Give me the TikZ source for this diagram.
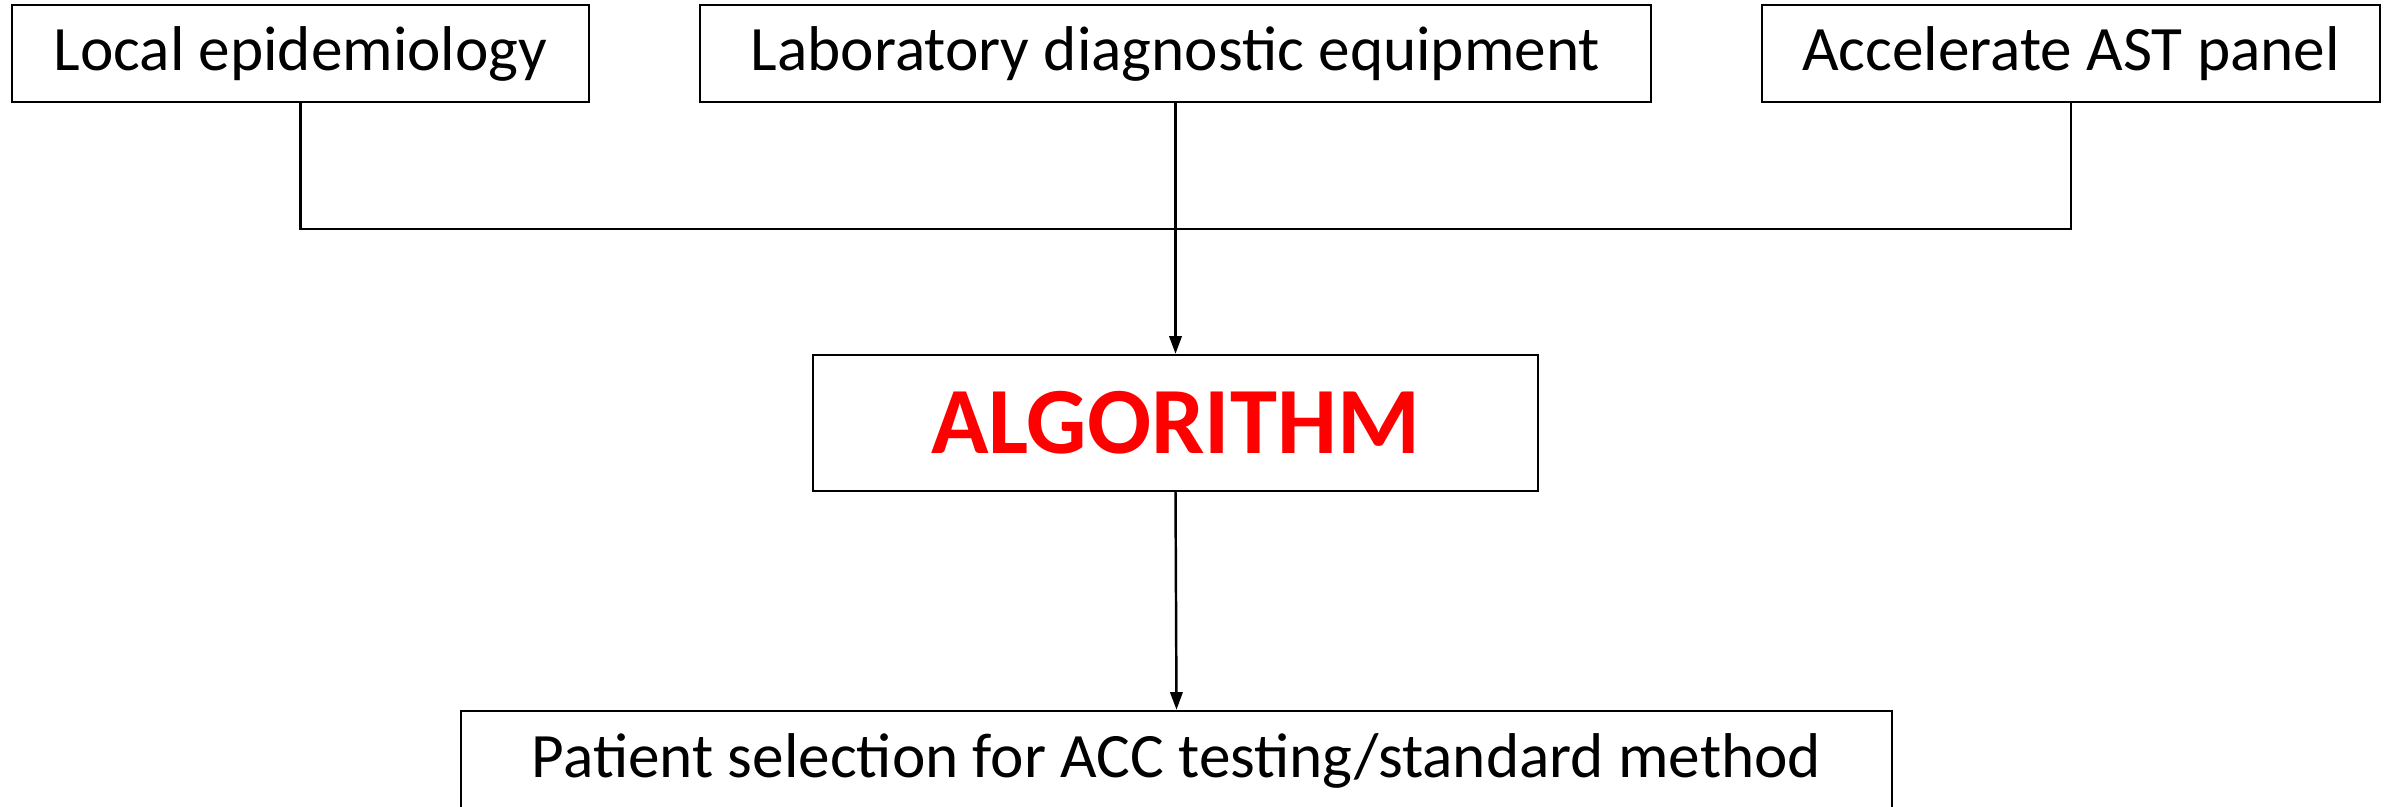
\documentclass[tikz,border=0pt]{standalone}
\usepackage{fontspec}
\setmainfont{Carlito}
\usetikzlibrary{arrows.meta}
\begin{document}
\begin{tikzpicture}[x=0.02cm,y=-0.02cm,
  inbox/.style={draw=black,line width=1.4pt,inner sep=0pt,align=center,
    font=\fontsize{36}{43}\selectfont},
  link/.style={draw=black,line width=1.4pt},
  arr/.style={link,-{Triangle[length=10pt,width=7pt]}}]
\useasboundingbox (0,0) rectangle (2392,807);
\clip (0,0) rectangle (2392,807);
\node[inbox,minimum width=577*0.02cm,minimum height=97*0.02cm] (loc) at (300.5,53.5) {Local epidemiology};
\node[inbox,minimum width=951*0.02cm,minimum height=97*0.02cm] (lab) at (1175.5,53.5) {Laboratory diagnostic equipment};
\node[inbox,minimum width=618*0.02cm,minimum height=97*0.02cm] (acc) at (2071,53.5) {Accelerate AST panel};
\node[inbox,minimum width=725*0.02cm,minimum height=136*0.02cm,text=red,
  font=\fontsize{54}{60}\selectfont\bfseries] (alg) at (1175.5,423) {ALGORITHM};
\node[inbox,minimum width=1431*0.02cm,minimum height=100*0.02cm] (pat) at (1176.5,761) {Patient selection for ACC testing/standard method};
\coordinate (jl) at (300.5,229);
\coordinate (jr) at (2071,229);
\draw[link] (loc.south) -- (jl) -- (jr) -- (acc.south);
\draw[arr] (lab.south) -- (alg.north);
\draw[arr] (alg.south) -- (pat.north);
\end{tikzpicture}
\end{document}
